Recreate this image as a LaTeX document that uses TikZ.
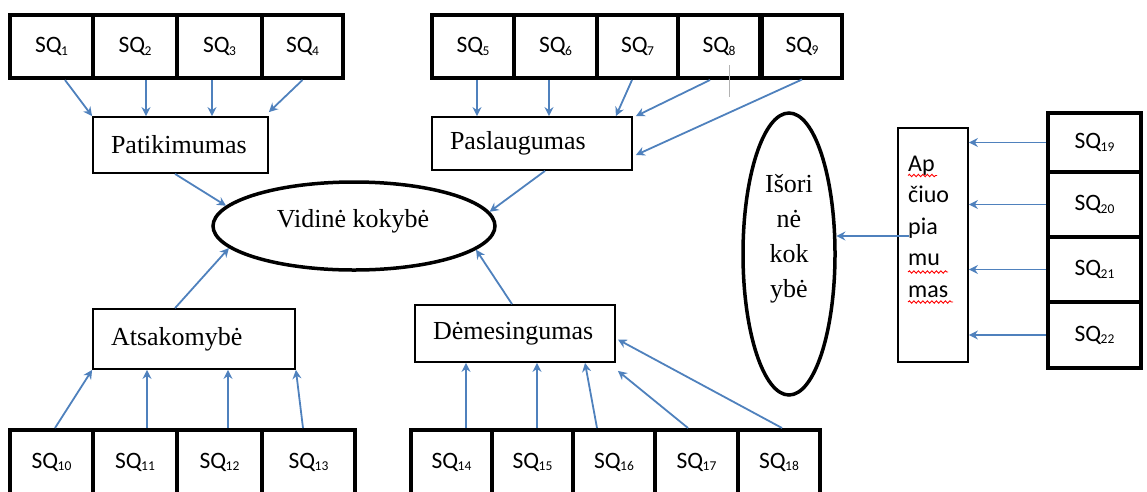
\documentclass[tikz,border=0pt]{standalone}
\usepackage{fontspec}
\setmainfont{Liberation Serif}
\newfontfamily\sqfont{Carlito}
\usetikzlibrary{arrows.meta,decorations.pathmorphing,shapes.geometric}
\definecolor{arrowblue}{RGB}{79,129,189}
% SQ label: "SQ" with a small lowered index
\newcommand\sqlab[1]{{\sqfont\fontsize{23.5}{23.5}\selectfont SQ\kern-0.5pt\raisebox{-2.5pt}{\fontsize{13.5}{13.5}\selectfont #1}}}

\begin{document}
\begin{tikzpicture}[x=1pt,y=-1pt,
  sqbox/.style={draw, line width=4pt, inner sep=0pt, minimum height=63pt},
  catbox/.style={draw, line width=1.8pt, inner xsep=18pt, inner ysep=0pt, align=left,
                 font=\fontsize{26}{30}\selectfont},
  oval/.style={draw, ellipse, line width=3.5pt, inner sep=0pt},
  arr/.style={draw=arrowblue, line width=1.8pt, -{Stealth[length=9pt,width=9pt,inset=3pt]}},
  squiggle/.style={red, line width=0.9pt, decorate, decoration={snake, amplitude=1.2pt, segment length=4.5pt}}]
\useasboundingbox (0,0) rectangle (1147,491);
\clip (0,0) rectangle (1147,491);

% ---- top left group
\node[sqbox, minimum width=83pt] (q1) at (51.5,46.5) {\sqlab{1}};
\node[sqbox, minimum width=84pt] (q2) at (135,46.5) {\sqlab{2}};
\node[sqbox, minimum width=85pt] (q3) at (219.5,46.5) {\sqlab{3}};
\node[sqbox, minimum width=81pt] (q4) at (302.5,46.5) {\sqlab{4}};
\node[catbox, minimum width=175pt, text width=139pt, minimum height=56pt] (pat) at (180.5,145) {Patikimumas};

% ---- top middle group
\node[sqbox, minimum width=82pt] (q5) at (473,46.5) {\sqlab{5}};
\node[sqbox, minimum width=83pt] (q6) at (555.5,46.5) {\sqlab{6}};
\node[sqbox, minimum width=81pt] (q7) at (637.5,46.5) {\sqlab{7}};
\node[sqbox, minimum width=82pt] (q8) at (719,46.5) {\sqlab{8}};
\node[sqbox, minimum width=80pt] (q9) at (802,46) {\sqlab{9}};
\node[catbox, minimum width=200pt, text width=164pt, minimum height=53pt] (pas) at (532,143.5) {Paslaugumas};
\draw[gray!60, line width=1pt] (729,65) -- (729,97);

% ---- central oval
\node[oval, minimum width=282pt, minimum height=88pt] (vid) at (354,226) {};
\node[font=\fontsize{26}{30}\selectfont] (vidt) at (353,221) {Vidinė kokybė};

% ---- bottom left group
\node[catbox, minimum width=202pt, text width=166pt, minimum height=60pt] (ats) at (194,339) {Atsakomybė};
\node[sqbox, minimum width=83pt, minimum height=64pt] (q10) at (51.5,462) {\sqlab{10}};
\node[sqbox, minimum width=84pt, minimum height=64pt] (q11) at (135,462) {\sqlab{11}};
\node[sqbox, minimum width=85pt, minimum height=64pt] (q12) at (219.5,462) {\sqlab{12}};
\node[sqbox, minimum width=93pt, minimum height=64pt] (q13) at (308.5,462) {\sqlab{13}};

% ---- bottom middle group
\node[catbox, minimum width=200pt, text width=164pt, minimum height=57pt] (dem) at (515,333.5) {Dėmesingumas};
\node[sqbox, minimum width=81pt, minimum height=64pt] (q14) at (451.5,462) {\sqlab{14}};
\node[sqbox, minimum width=81pt, minimum height=64pt] (q15) at (532.5,462) {\sqlab{15}};
\node[sqbox, minimum width=82pt, minimum height=64pt] (q16) at (614,462) {\sqlab{16}};
\node[sqbox, minimum width=83pt, minimum height=64pt] (q17) at (696.5,462) {\sqlab{17}};
\node[sqbox, minimum width=82pt, minimum height=64pt] (q18) at (779,462) {\sqlab{18}};

% ---- right group
\node[oval, minimum width=92pt, minimum height=282pt] (iso) at (789,254) {};
\node[align=center, inner sep=0pt, font=\fontsize{26}{35}\selectfont] (isot) at (789,239) {Išori\\nė\\kok\\ybė};
\node[draw, line width=1.8pt, minimum width=70pt, minimum height=234pt, inner sep=0pt] (apc) at (933,245) {};
\node[anchor=north west, align=left, inner sep=0pt,
      font=\sqfont\fontsize{24}{31.5}\selectfont] (apct) at (908,155.5) {Ap\\čiuo\\pia\\mu\\mas};
\draw[squiggle] (908,175.5) -- (937,175.5);
\draw[squiggle] (908,272) -- (948,272);
\draw[squiggle] (908,302) -- (953,302);
\node[sqbox, minimum width=93pt, minimum height=59pt] (q19) at (1094.5,142.5) {\sqlab{19}};
\node[sqbox, minimum width=93pt, minimum height=65pt] (q20) at (1094.5,204.5) {\sqlab{20}};
\node[sqbox, minimum width=93pt, minimum height=65pt] (q21) at (1094.5,269.5) {\sqlab{21}};
\node[sqbox, minimum width=93pt, minimum height=66pt] (q22) at (1094.5,335) {\sqlab{22}};

% ---- connectors
\draw[arr] ([shift={(13.5,0)}]q1.south) -- (pat.north west);
\draw[arr] ([shift={(11,0)}]q2.south) -- ([shift={(-34.5,0)}]pat.north);
\draw[arr] ([shift={(-7.5,0)}]q3.south) -- ([shift={(31.5,0)}]pat.north);
\draw[arr] (q4.south) -- ([shift={(0,-4)}]pat.north east);

\draw[arr] ([shift={(4,0)}]q5.south) -- ([shift={(-55,0)}]pas.north);
\draw[arr] ([shift={(-6.5,0)}]q6.south) -- ([shift={(17,0)}]pas.north);
\draw[arr] ([shift={(-5.5,0)}]q7.south) -- ([shift={(-17,0)}]pas.north east);
\draw[arr] ([shift={(-9,0)}]q8.south) -- ([shift={(3,0)}]pas.north east);
\draw[arr] (q9.south) -- ([shift={(3,11.5)}]pas.east);

\draw[arr] ([shift={(-5.5,0)}]pat.south) -- (vid.171);
\draw[arr] ([shift={(13,0)}]pas.south) -- (vid.6);
\draw[arr] ([shift={(-19,0)}]ats.north) -- (vid.190);
\draw[arr] ([shift={(-3,0)}]dem.north) -- (vid.349);

\draw[arr] ([shift={(3.5,0)}]q10.north) -- (ats.south west);
\draw[arr] ([shift={(12,0)}]q11.north) -- ([shift={(-47,0)}]ats.south);
\draw[arr] ([shift={(8.5,0)}]q12.north) -- ([shift={(34,0)}]ats.south);
\draw[arr] ([shift={(-5.5,0)}]q13.north) -- (ats.south east);

\draw[arr] ([shift={(14.5,0)}]q14.north) -- ([shift={(-49,0)}]dem.south);
\draw[arr] ([shift={(4.5,0)}]q15.north) -- ([shift={(22,0)}]dem.south);
\draw[arr] ([shift={(-17,0)}]q16.north) -- ([shift={(70,0)}]dem.south);
\draw[arr] ([shift={(-8.5,0)}]q17.north) -- ([shift={(2,8)}]dem.south east);
\draw[arr] ([shift={(3,0)}]q18.north) -- ([shift={(2,6)}]dem.east);

\draw[arr] (q19.west) -- (q19.west -| apc.east);
\draw[arr] (q20.west) -- (q20.west -| apc.east);
\draw[arr] (q21.west) -- (q21.west -| apc.east);
\draw[arr] (q22.west) -- (q22.west -| apc.east);
\coordinate (apcout) at ([shift={(12,-9)}]apc.west);
\draw[arr] (apcout) -- (iso.21 |- apcout);
\end{tikzpicture}
\end{document}
